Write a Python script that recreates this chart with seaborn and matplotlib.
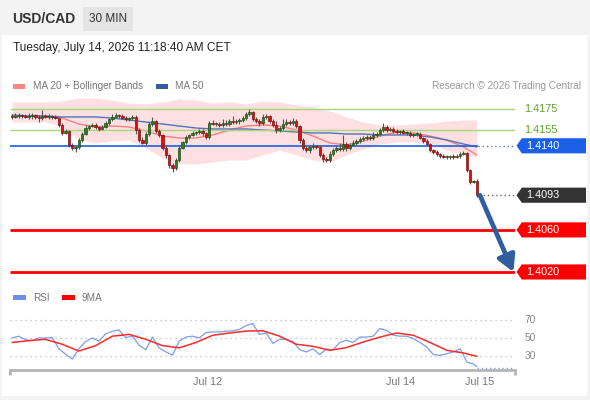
import numpy as np
import matplotlib
matplotlib.use("Agg")
import matplotlib.pyplot as plt
import matplotlib.transforms as mtransforms
from matplotlib.patches import Polygon, Rectangle
import seaborn as sns

# ---------------------------------------------------------------------------
# Data (USD/CAD 30 min)
# ---------------------------------------------------------------------------
first_open = 1.41683
closes = [
    1.41674, 1.41683, 1.41693, 1.41683, 1.41674, 1.41683, 1.41693, 1.41674, 1.41664, 1.41683,
    1.41674, 1.41683, 1.41674, 1.41664, 1.41598, 1.41522, 1.41541, 1.41408, 1.41379, 1.41389,
    1.41455, 1.41512, 1.41569, 1.41588, 1.41598, 1.41579, 1.41560, 1.41579, 1.41617, 1.41655,
    1.41674, 1.41693, 1.41683, 1.41664, 1.41655, 1.41664, 1.41674, 1.41550, 1.41455, 1.41427,
    1.41512, 1.41607, 1.41636, 1.41541, 1.41503, 1.41379, 1.41313, 1.41217, 1.41189, 1.41265,
    1.41379, 1.41436, 1.41484, 1.41503, 1.41522, 1.41531, 1.41541, 1.41522, 1.41484, 1.41617,
    1.41607, 1.41607, 1.41598, 1.41617, 1.41607, 1.41636, 1.41626, 1.41636, 1.41645, 1.41664,
    1.41702, 1.41721, 1.41655, 1.41636, 1.41617, 1.41674, 1.41683, 1.41636, 1.41598, 1.41550,
    1.41569, 1.41607, 1.41626, 1.41617, 1.41636, 1.41588, 1.41455, 1.41379, 1.41360, 1.41389,
    1.41398, 1.41389, 1.41313, 1.41275, 1.41265, 1.41322, 1.41360, 1.41379, 1.41370, 1.41417,
    1.41379, 1.41408, 1.41427, 1.41446, 1.41465, 1.41474, 1.41484, 1.41474, 1.41503, 1.41512,
    1.41550, 1.41579, 1.41550, 1.41560, 1.41541, 1.41531, 1.41541, 1.41522, 1.41522, 1.41503,
    1.41512, 1.41512, 1.41474, 1.41446, 1.41417, 1.41360, 1.41341, 1.41322, 1.41303, 1.41294,
    1.41294, 1.41303, 1.41294, 1.41303, 1.41322, 1.41332, 1.41170, 1.41056, 1.41065, 1.40930,
]
# wick extents beyond the body, in pips
wick_up = [
    2, 3, 2, 1, 2, 3, 2, 1, 2, 6, 2, 2, 1, 2,
    1, 2, 2, 1, 2, 1, 2, 2, 3, 1, 2, 2, 1, 2,
    2, 1, 3, 2, 1, 2, 2, 1, 2, 2, 2, 3, 2, 2,
    4, 1, 2, 1, 2, 1, 2, 2, 2, 1, 2, 1, 2, 1,
    2, 2, 1, 2, 3, 2, 2, 4, 3, 2, 5, 2, 2, 2,
    2, 3, 1, 2, 2, 3, 2, 1, 2, 4, 2, 5, 3, 2,
    3, 2, 1, 2, 2, 2, 3, 1, 2, 2, 2, 3, 2, 2,
    5, 10, 2, 2, 3, 2, 2, 2, 2, 2, 3, 2, 2, 4,
    2, 2, 2, 2, 1, 2, 2, 2, 1, 2, 2, 1, 2, 1,
    1, 2, 1, 2, 2, 1, 2, 2, 2, 2, 1, 1, 1, 2,
]
wick_dn = [
    2, 1, 2, 2, 1, 2, 3, 2, 4, 2, 1, 2, 2, 1,
    2, 2, 1, 2, 2, 4, 2, 2, 1, 2, 1, 2, 2, 1,
    1, 2, 2, 1, 2, 1, 2, 2, 2, 4, 2, 1, 2, 2,
    2, 2, 2, 2, 3, 3, 4, 2, 2, 1, 2, 2, 1, 2,
    2, 3, 2, 2, 1, 2, 2, 2, 2, 2, 2, 2, 3, 2,
    2, 2, 2, 2, 3, 2, 2, 2, 2, 3, 2, 2, 2, 2,
    2, 2, 3, 2, 2, 3, 2, 2, 2, 3, 2, 2, 2, 2,
    2, 2, 3, 2, 1, 2, 2, 2, 2, 2, 2, 2, 2, 2,
    2, 1, 2, 2, 2, 1, 2, 2, 2, 2, 1, 2, 2, 2,
    2, 2, 2, 1, 2, 2, 2, 1, 2, 1, 2, 2, 1, 2,
]

# indicators, sampled every 5 candles (plus the last one)
ind_idx = list(range(0, 140, 5)) + [139]
bb_upper = [1.41817, 1.41817, 1.41817, 1.41826, 1.41855, 1.41855, 1.41836, 1.41807, 1.41798, 1.41817,
            1.41845, 1.41836, 1.41807, 1.41817, 1.41798, 1.41826, 1.41817, 1.41788, 1.41769, 1.41731,
            1.41674, 1.41626, 1.41598, 1.41598, 1.41607, 1.41617, 1.41636, 1.41645, 1.41645]
bb_lower = [1.41626, 1.41626, 1.41626, 1.41588, 1.41455, 1.41427, 1.41446, 1.41455, 1.41379, 1.41284,
            1.41227, 1.41227, 1.41246, 1.41265, 1.41265, 1.41313, 1.41360, 1.41313, 1.41265, 1.41246,
            1.41313, 1.41370, 1.41417, 1.41436, 1.41436, 1.41427, 1.41360, 1.41313, 1.41294]
ma20 = [1.41683, 1.41683, 1.41683, 1.41664, 1.41607, 1.41579, 1.41588, 1.41579, 1.41541, 1.41493,
        1.41474, 1.41474, 1.41503, 1.41550, 1.41588, 1.41598, 1.41588, 1.41550, 1.41493, 1.41427,
        1.41408, 1.41446, 1.41493, 1.41531, 1.41522, 1.41493, 1.41455, 1.41389, 1.41313]
ma50 = [1.41693, 1.41683, 1.41683, 1.41674, 1.41674, 1.41674, 1.41664, 1.41645, 1.41626, 1.41607,
        1.41588, 1.41569, 1.41560, 1.41560, 1.41560, 1.41550, 1.41541, 1.41531, 1.41522, 1.41522,
        1.41512, 1.41512, 1.41503, 1.41503, 1.41503, 1.41484, 1.41455, 1.41417, 1.41389]
rsi_9ma = [45, 47, 48.5, 43, 35.5, 41.5, 52, 54, 48.5, 41.5, 39, 45, 53, 55.5, 57.7,
           58, 52, 43, 40.7, 36.3, 39.3, 45.5, 51, 55.5, 53, 45, 36.3, 33.3, 29.6]

# RSI, sampled every 2 candles (plus the last one)
rsi_idx = list(range(0, 140, 2)) + [139]
rsi = [50, 52, 48, 47, 50, 50, 50.5, 38, 32, 26.5,
       38, 46, 50, 46.5, 54.5, 57.5, 59, 50.5, 52, 42,
       37, 51, 39, 34.5, 31, 46.5, 51, 52, 50, 56,
       56.7, 56.7, 57.5, 58, 59.5, 63.7, 66, 54, 55.5, 44,
       48.5, 48.5, 46, 37, 34.5, 38, 31.5, 37.5, 37, 45,
       47.5, 45, 51, 51, 52, 60.5, 58.5, 53, 52, 52,
       49.3, 45, 40, 31.5, 30.7, 32.5, 34.5, 38, 23.3, 21,
       18]
rsi_off_scale = 17
rsi_levels = [70, 50, 30]

resistances = [1.4175, 1.4155]
pivot = 1.4140
supports = [1.4060, 1.4020]
target = 1.4020

tick_idx = [58.6, 116.3, 139.9]
tick_labels = ["Jul 12", "Jul 14", "Jul 15"]

# ---------------------------------------------------------------------------
# Styling
# ---------------------------------------------------------------------------
sns.set_theme(style="white")
plt.rcParams["font.family"] = ["Liberation Sans", "DejaVu Sans"]

GREEN = "#2f7d24"
RED = "#e30d0d"
BLUE_PIVOT = "#1b5fe8"
ARROW = "#2f5f9f"

W, H = 590, 400


def fx(px):
    return px / W


def fy(py):
    return 1 - py / H


fig = plt.figure(figsize=(W / 100, H / 100), dpi=100, facecolor="#f3f3f3")
fig.patches.append(Rectangle((fx(2), fy(396)), fx(585), 361 / H, transform=fig.transFigure,
                             facecolor="white", edgecolor="none", zorder=-5))
fig.patches.append(Rectangle((fx(83), fy(31)), fx(50), 24 / H, transform=fig.transFigure,
                             facecolor="#e4e4e4", edgecolor="none", zorder=-4))

fig.text(fx(12), fy(19), "USD/CAD", fontsize=10, fontweight="bold", color="#333333", va="center")
fig.text(fx(108), fy(19), "30 MIN", fontsize=8.5, color="#333333", va="center", ha="center")
fig.text(fx(13), fy(48), "Tuesday, July 14, 2026 11:18:40 AM CET", fontsize=8.6,
         color="#222222", va="center")

# legends
fig.patches.append(Rectangle((fx(13), fy(89)), fx(12), 5 / H, transform=fig.transFigure,
                             facecolor="#ff8484", edgecolor="none", zorder=-3))
fig.text(fx(33), fy(86), "MA 20 + Bollinger Bands", fontsize=7.2, color="#777777", va="center")
fig.patches.append(Rectangle((fx(156), fy(89)), fx(12), 5 / H, transform=fig.transFigure,
                             facecolor="#345d9e", edgecolor="none", zorder=-3))
fig.text(fx(175), fy(86), "MA 50", fontsize=7.2, color="#777777", va="center")
fig.text(fx(581), fy(86), "Research \u00a9 2026 Trading Central", fontsize=7.2,
         color="#9a9a9a", va="center", ha="right")

fig.patches.append(Rectangle((fx(13), fy(300)), fx(13), 5 / H, transform=fig.transFigure,
                             facecolor="#6f8fe6", edgecolor="none", zorder=-3))
fig.text(fx(33), fy(298), "RSI", fontsize=7.2, color="#777777", va="center")
fig.patches.append(Rectangle((fx(62), fy(300)), fx(13), 5 / H, transform=fig.transFigure,
                             facecolor="#ff0000", edgecolor="none", zorder=-3))
fig.text(fx(82), fy(298), "9MA", fontsize=7.2, color="#777777", va="center")

# ---------------------------------------------------------------------------
# Price panel
# ---------------------------------------------------------------------------
ax = fig.add_axes([fx(10), fy(285), fx(505), 190 / H])
ax.set_facecolor("none")
ax.set_xlim(-0.6, 150.4)
ax.set_ylim(1.40076, 1.41883)
ax.set_axis_off()
x0, x1 = ax.get_xlim()
trans = mtransforms.blended_transform_factory(ax.transAxes, ax.transData)

n = len(closes)
idx = np.arange(n)
c = np.array(closes)
o = np.r_[first_open, c[:-1]]
hi = np.maximum(o, c) + np.array(wick_up) * 1e-4 * 0.9
lo = np.minimum(o, c) - np.array(wick_dn) * 1e-4 * 0.9
up = c >= o

ax.fill_between(ind_idx, bb_lower, bb_upper, color="#ffe0e0", lw=0, zorder=1)
sns.lineplot(x=ind_idx, y=ma20, ax=ax, color="#ff8080", linewidth=1, zorder=2, legend=False)
sns.lineplot(x=ind_idx, y=ma50, ax=ax, color="#4f74b8", linewidth=1, zorder=2, legend=False)

ax.hlines(resistances, x0, x1, color="#a8d47e", lw=1, zorder=2)
ax.hlines(supports, x0, x1, color="#ff0000", lw=2, zorder=2)
ax.hlines(pivot, x0, n - 0.7, color=BLUE_PIVOT, lw=1.2, zorder=2)
ax.hlines(pivot, n - 0.7, x1, color="#6a7fa8", lw=1, ls=(0, (1, 2)), zorder=2)
ax.hlines(c[-1], n - 0.3, x1, color="#666666", lw=1, ls=(0, (1, 2)), zorder=2)

ax.vlines(idx, lo, hi, color="#555555", lw=0.8, zorder=3)
body_h = np.maximum(np.abs(c - o), 0.00005)
ax.bar(idx, body_h, bottom=np.minimum(o, c), width=0.7,
       color=np.where(up, GREEN, RED), edgecolor=np.where(up, "#1f4f18", "#7a1010"),
       linewidth=0.5, zorder=4)

ax.annotate("", xy=(x1 - 0.5, target), xytext=(n - 1 + 0.9, c[-1]),
            arrowprops=dict(arrowstyle="-|>,head_length=0.8,head_width=0.45",
                            mutation_scale=12, lw=3.4, color=ARROW,
                            shrinkA=0, shrinkB=0), zorder=6)

for lvl in resistances:
    ax.text(1.018, lvl, f"{lvl:.4f}", transform=trans, color="#5fa52a",
            fontsize=7.8, va="center", ha="left")


def price_tag(level, color):
    h = 0.00072
    xs = [1.003, 1.0135, 1.1406, 1.1406, 1.0135]
    ys = [level, level + h, level + h, level - h, level - h]
    ax.add_patch(Polygon(np.column_stack([xs, ys]), closed=True, transform=trans,
                         facecolor=color, edgecolor="none", clip_on=False, zorder=5))
    ax.text(1.0225, level, f"{level:.4f}", transform=trans, color="white",
            fontsize=7.8, va="center", ha="left", zorder=6)


price_tag(pivot, BLUE_PIVOT)
price_tag(round(c[-1], 4), "#333333")
for lvl in supports:
    price_tag(lvl, "#ff0000")

# ---------------------------------------------------------------------------
# RSI panel
# ---------------------------------------------------------------------------
ax2 = fig.add_axes([fx(10), fy(370), fx(505), 60 / H])
ax2.set_facecolor("none")
ax2.set_xlim(x0, x1)
ax2.set_ylim(14.4, 81.1)
for side in ["top", "left", "right"]:
    ax2.spines[side].set_visible(False)
ax2.spines["bottom"].set_color("#b5b5b5")
ax2.spines["bottom"].set_linewidth(2)
ax2.set_yticks([])
ax2.set_xticks(tick_idx, tick_labels)
ax2.tick_params(axis="x", length=0, pad=5, labelsize=7.8, labelcolor="#777777")
ax2.grid(False)
trans2 = mtransforms.blended_transform_factory(ax2.transAxes, ax2.transData)

for lv in rsi_levels:
    ax2.axhline(lv, color="#bcbcbc", ls=(0, (1, 3)), lw=0.9, zorder=1)
    ax2.text(1.0198, lv, str(lv), transform=trans2, fontsize=7.3, color="#888888",
             va="center", ha="left")

for xa in [0, 1]:
    ax2.plot([xa, xa], [0, -0.085], transform=ax2.transAxes, clip_on=False,
             color="#b5b5b5", lw=2, solid_capstyle="butt")

sns.lineplot(x=rsi_idx, y=rsi, ax=ax2, color="#7b9ded", linewidth=0.9, zorder=3, legend=False)
sns.lineplot(x=ind_idx, y=rsi_9ma, ax=ax2, color="#ff2a2a", linewidth=1.1, zorder=3, legend=False)
ax2.hlines(rsi_off_scale, n - 1, x1, color="#7b9ded", lw=1, ls=(0, (1, 2)), zorder=3)
ax2.set_xlabel("")
ax2.set_ylabel("")
ax.set_xlabel("")
ax.set_ylabel("")

fig.savefig("out.png", dpi=100, facecolor=fig.get_facecolor())
